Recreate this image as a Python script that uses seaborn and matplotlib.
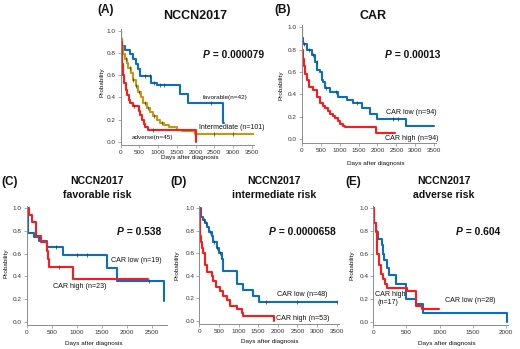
import numpy as np
import pandas as pd
import matplotlib
matplotlib.use("Agg")
import matplotlib.pyplot as plt
import seaborn as sns

# ---------------- data ----------------
# Panel A: NCCN2017
A_fav_t = [0, 15, 40, 116, 250, 338, 410, 472, 516, 800, 960, 1580, 1800, 2740, 2750]
A_fav_s = [1.0, 0.93, 0.86, 0.83, 0.79, 0.75, 0.70, 0.66, 0.59, 0.53, 0.51, 0.43, 0.35, 0.17, 0.17]
A_fav_c = [650, 780, 880, 1050, 1150, 2400]
A_int_t = [0, 10, 30, 70, 110, 160, 205, 267, 330, 410, 472, 540, 600, 695, 780, 870, 960,
           1050, 1150, 1300, 1500, 1630, 1980, 3550]
A_int_s = [1.0, 0.93, 0.86, 0.79, 0.75, 0.71, 0.67, 0.62, 0.56, 0.50, 0.45, 0.40, 0.35, 0.30,
           0.27, 0.23, 0.20, 0.17, 0.15, 0.13, 0.11, 0.095, 0.07, 0.07]
A_int_c = [150, 250, 330, 420, 500, 640, 720, 900, 1100, 2500, 3000]
A_adv_t = [0, 10, 25, 45, 70, 100, 130, 170, 210, 260, 330, 480, 520, 560, 610, 660, 720, 2000]
A_adv_s = [1.0, 0.90, 0.80, 0.70, 0.60, 0.53, 0.47, 0.42, 0.38, 0.35, 0.32, 0.28, 0.24, 0.20,
           0.16, 0.13, 0.11, 0.0]
A_adv_c = [350, 850]

# Panel B: CAR
B_low_t = [0, 10, 26, 132, 150, 264, 352, 413, 484, 528, 560, 616, 748, 967, 1187, 1363,
           1583, 1803, 1996, 2750, 3500]
B_low_s = [1.0, 0.90, 0.85, 0.82, 0.80, 0.75, 0.69, 0.62, 0.60, 0.53, 0.51, 0.455, 0.42,
           0.375, 0.35, 0.32, 0.28, 0.23, 0.18, 0.12, 0.12]
B_low_c = [60, 180, 300, 400, 640, 900, 1450, 2400, 2550]
B_high_t = [0, 8, 20, 40, 70, 100, 132, 202, 308, 396, 484, 560, 616, 690, 748, 820, 880,
            950, 1011, 1080, 1143, 1961, 2463]
B_high_s = [1.0, 0.90, 0.80, 0.72, 0.65, 0.58, 0.53, 0.47, 0.44, 0.38, 0.32, 0.30, 0.28,
            0.25, 0.23, 0.21, 0.19, 0.16, 0.14, 0.12, 0.107, 0.054, 0.054]
B_high_c = []

# Panel C: favorable risk
C_low_t = [0, 33, 153, 253, 400, 733, 1600, 1800, 2740, 2750]
C_low_s = [1.0, 0.78, 0.75, 0.71, 0.66, 0.59, 0.47, 0.36, 0.18, 0.18]
C_low_c = [580, 1000, 1200, 2450]
C_high_t = [0, 53, 100, 187, 280, 400, 433, 453, 920, 2433]
C_high_s = [1.0, 0.94, 0.88, 0.76, 0.70, 0.62, 0.55, 0.48, 0.38, 0.38]
C_high_c = [640]

# Panel D: intermediate risk
D_low_t = [0, 34, 100, 144, 204, 255, 314, 357, 441, 510, 569, 611, 951, 1120, 1375, 1528, 3500]
D_low_s = [1.0, 0.92, 0.90, 0.87, 0.83, 0.79, 0.75, 0.70, 0.65, 0.60, 0.55, 0.44, 0.33,
           0.27, 0.22, 0.17, 0.17]
D_low_c = [120, 180, 280, 380, 460, 520, 1700, 2500, 3500]
D_high_t = [0, 10, 20, 34, 68, 100, 150, 204, 314, 357, 424, 526, 611, 713, 781, 951, 1078,
            1120, 1900]
D_high_s = [1.0, 0.85, 0.75, 0.70, 0.65, 0.60, 0.50, 0.43, 0.40, 0.35, 0.30, 0.26, 0.22,
            0.18, 0.13, 0.10, 0.07, 0.04, 0.0]
D_high_c = []

# Panel E: adverse risk
E_low_t = [0, 15, 40, 75, 126, 141, 161, 201, 241, 340, 490, 640, 754, 2010]
E_low_s = [1.0, 0.87, 0.79, 0.73, 0.68, 0.60, 0.54, 0.47, 0.41, 0.33, 0.20, 0.16, 0.08, 0.0]
E_low_c = []
E_high_t = [0, 15, 35, 50, 60, 85, 110, 141, 176, 201, 503, 640, 729, 990]
E_high_s = [1.0, 0.87, 0.80, 0.70, 0.60, 0.50, 0.42, 0.38, 0.33, 0.30, 0.27, 0.14, 0.11, 0.11]
E_high_c = []

x_ticks_long = [0, 500, 1000, 1500, 2000, 2500, 3000, 3500]
x_ticks_C = [0, 500, 1000, 1500, 2000, 2500]
x_ticks_E = [0, 500, 1000, 1500, 2000]
y_ticks = [0.0, 0.2, 0.4, 0.6, 0.8, 1.0]

BLUE = "#0A6FC2"
RED = "#FF1A1A"
GOLD = "#C49A0A"

# ---------------- figure ----------------
sns.set_style("ticks")
plt.rcParams["font.family"] = ["Liberation Sans", "DejaVu Sans"]

W, H = 520, 349
fig = plt.figure(figsize=(W / 100, H / 100), dpi=100)


def fx(x):
    return x / W


def fy(y):
    return 1 - y / H


YLO, YHI = -0.03, 1.02


def make_ax(x0, ppd, xmax, y0, ppu, xticks):
    left = x0
    right = x0 + xmax * ppd
    top = y0 - YHI * ppu
    bot = y0 - YLO * ppu
    ax = fig.add_axes([fx(left), fy(bot), (right - left) / W, (bot - top) / H])
    ax.set_xlim(0, xmax)
    ax.set_ylim(YLO, YHI)
    ax.set_xticks(xticks)
    ax.set_yticks(y_ticks)
    ax.set_yticklabels([f"{v:.1f}" for v in y_ticks])
    for s in ["top", "right"]:
        ax.spines[s].set_visible(False)
    for s in ["left", "bottom"]:
        ax.spines[s].set_color("#8c8c8c")
        ax.spines[s].set_linewidth(0.7)
    ax.tick_params(labelsize=4.6, length=2, width=0.5, color="#8c8c8c",
                   labelcolor="#333333", pad=1.5)
    return ax


def step_at(ts, ss, t):
    i = np.searchsorted(ts, t, side="right") - 1
    return ss[max(i, 0)]


def km(ax, ts, ss, cs, color):
    df = pd.DataFrame({"t": ts, "s": ss})
    sns.lineplot(data=df, x="t", y="s", ax=ax, color=color, lw=1.5,
                 drawstyle="steps-post", estimator=None, sort=False, legend=False)
    if cs:
        cy = [step_at(ts, ss, c) for c in cs]
        dfc = pd.DataFrame({"t": cs, "s": cy})
        sns.scatterplot(data=dfc, x="t", y="s", ax=ax, marker="|", s=5,
                        color="#333333", linewidth=0.5, legend=False, zorder=5)
    ax.set_xlabel("")
    ax.set_ylabel("")


axA = make_ax(120.7, 0.03743, 3550, 141.7, 110.7, x_ticks_long)
km(axA, A_fav_t, A_fav_s, A_fav_c, BLUE)
km(axA, A_int_t, A_int_s, A_int_c, GOLD)
km(axA, A_adv_t, A_adv_s, A_adv_c, RED)

axB = make_ax(301.7, 0.03789, 3550, 139.3, 112, x_ticks_long)
km(axB, B_low_t, B_low_s, B_low_c, BLUE)
km(axB, B_high_t, B_high_s, B_high_c, RED)

axC = make_ax(26.7, 0.05, 2800, 321.7, 113.4, x_ticks_C)
km(axC, C_low_t, C_low_s, C_low_c, BLUE)
km(axC, C_high_t, C_high_s, C_high_c, RED)

axD = make_ax(199.3, 0.03926, 3550, 320.7, 112.4, x_ticks_long)
km(axD, D_low_t, D_low_s, D_low_c, BLUE)
km(axD, D_high_t, D_high_s, D_high_c, RED)

axE = make_ax(373.3, 0.06635, 2030, 321.7, 113.4, x_ticks_E)
km(axE, E_low_t, E_low_s, E_low_c, BLUE)
km(axE, E_high_t, E_high_s, E_high_c, RED)


def T(x, y, s, size, bold=False, ha="left", va="center", **kw):
    return fig.text(fx(x), fy(y), s, fontsize=size, ha=ha, va=va,
                    fontweight="bold" if bold else "normal", color="#111111", **kw)


# panel letters
for (x, y, s) in [(97, 10, "(A)"), (274, 10, "(B)"), (1, 182, "(C)"), (170, 182, "(D)"), (345, 182, "(E)")]:
    T(x, y, s, 8.5, bold=True)

# titles
T(194.7, 16, "NCCN2017", 9, bold=True, ha="center")
T(372.7, 16, "CAR", 9, bold=True, ha="center")
for (x, l2) in [(97, "favorable risk"), (274, "intermediate risk"), (444, "adverse risk")]:
    T(x, 181.5, "NCCN2017", 7.6, bold=True, ha="center")
    T(x, 195.5, l2, 7.6, bold=True, ha="center")

# P values: italic bold "P" followed by bold " = value"
renderer = fig.canvas.get_renderer()


def pval(x, y, val, size=7.4):
    t = T(x, y, "P", size, bold=True, style="italic")
    bb = t.get_window_extent(renderer=renderer)
    x2 = bb.x1  # display pixels == figure pixels at dpi 100
    T(x2, y, " = " + val, size, bold=True)


pval(203, 55, "0.000079")
pval(385, 55, "0.00013")
pval(117, 232, "0.538")
pval(269, 232, "0.0000658")
pval(456, 232, "0.604")

# curve labels
T(203, 97, "favorable(n=42)", 4.6)
T(199.3, 128, "Intermediate (n=101)", 5.0)
T(132, 137, "adverse(n=45)", 4.6)
T(385.7, 113, "CAR low (n=94)", 5.1)
T(385, 138.3, "CAR high (n=94)", 5.1)
T(111, 261, "CAR low (n=19)", 5.1)
T(52.7, 286, "CAR high (n=23)", 5.1)
T(276.7, 294.3, "CAR low (n=48)", 5.1)
T(276, 319, "CAR high (n=53)", 5.1)
T(375, 294, "CAR high", 5.1)
T(378, 303, "(n=17)", 5.1)
T(445, 301, "CAR low (n=28)", 5.1)

# axis labels
for (x, y) in [(101.7, 82), (280.7, 85), (6, 263), (177.3, 265), (352.3, 265)]:
    T(x, y, "Probability", 4.6, ha="center", rotation=90)
for (x, y) in [(189.7, 157), (375.7, 164), (94.3, 344), (270, 342), (446.7, 343)]:
    T(x, y, "Days after diagnosis", 4.6, ha="center")

fig.savefig("out.png", dpi=100)
